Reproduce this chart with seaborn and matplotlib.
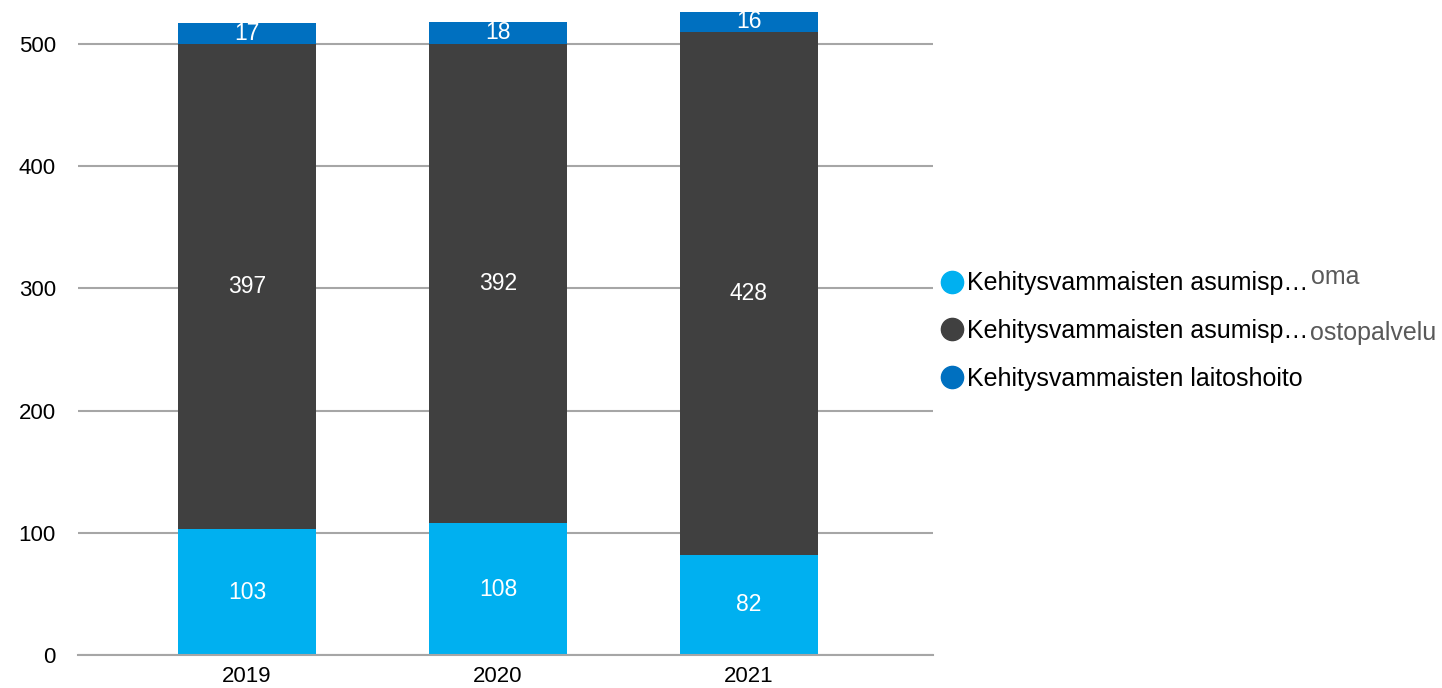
import numpy as np
import pandas as pd
from matplotlib import pyplot as plt
from matplotlib.lines import Line2D
import seaborn as sns

years = ['2019', '2020', '2021']
oma = [103, 108, 82]
ostopalvelu = [397, 392, 428]
laitoshoito = [17, 18, 16]

series_names = ['Kehitysvammaisten asumisp\u2026', 'Kehitysvammaisten asumisp\u2026',
                'Kehitysvammaisten laitoshoito']
colors = ['#00B0F0', '#404040', '#0070C0']

sns.set_style('white')
plt.rcParams['font.family'] = ['Liberation Sans', 'DejaVu Sans']
plt.rcParams['text.color'] = 'black'

fig = plt.figure(figsize=(14.42, 6.88), dpi=100)
ax = fig.add_axes([78 / 1442, 33 / 688, (933 - 78) / 1442, 655 / 688])

df = pd.DataFrame({'year': years, 'oma': oma, 'osto': ostopalvelu, 'laitos': laitoshoito})
bottom = np.zeros(len(years))
for col, color in zip(['oma', 'osto', 'laitos'], colors):
    sns.barplot(data=df, x='year', y=col, color=color, bottom=bottom, width=0.55,
                saturation=1, ax=ax, linewidth=0)
    for i, v in enumerate(df[col]):
        ax.text(i, bottom[i] + v / 2, str(v), ha='center', va='center',
                color='white', fontsize=16.5)
    bottom = bottom + df[col].values

ax.set_xlim(-0.673, 2.733)
ax.set_ylim(0, 536)
ax.set_yticks([0, 100, 200, 300, 400, 500])
ax.yaxis.grid(True, color='#A6A6A6', linewidth=1.5)
ax.set_axisbelow(True)
ax.set_xlabel('')
ax.set_ylabel('')
for s in ['left', 'right', 'top']:
    ax.spines[s].set_visible(False)
ax.spines['bottom'].set_color('#A6A6A6')
ax.spines['bottom'].set_linewidth(1.5)
ax.tick_params(axis='both', labelsize=16, length=0, colors='black')
ax.tick_params(axis='y', pad=16)
ax.tick_params(axis='x', pad=8)

handles = [Line2D([], [], marker='o', linestyle='', markersize=16,
                  markerfacecolor=c, markeredgecolor=c) for c in colors]
fig.legend(handles, series_names, loc='center left', bbox_to_anchor=(924 / 1442, 1 - 331 / 688),
           frameon=False, fontsize=18, handletextpad=0.0, labelspacing=0.95,
           handlelength=1.2, borderpad=0, labelcolor='black')

fig.text(1311 / 1442, 1 - 277 / 688, 'oma', fontsize=18, color='#595959', va='center')
fig.text(1310 / 1442, 1 - 333 / 688, 'ostopalvelu', fontsize=18, color='#595959', va='center')

fig.savefig('out.png', dpi=100)
